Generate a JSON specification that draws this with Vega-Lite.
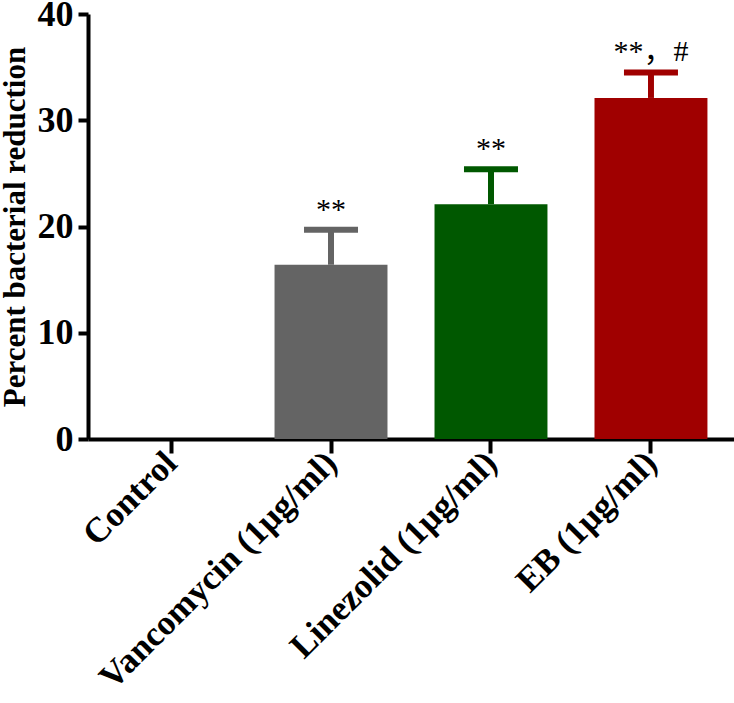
{
  "$schema": "https://vega.github.io/schema/vega-lite/v6.json",
  "width": 646,
  "height": 425,
  "autosize": {"type": "none"},
  "padding": {"left": 88, "top": 14, "right": 0, "bottom": 264},
  "background": "white",
  "config": {"view": {"stroke": null}},
  "data": {
    "values": [
      {"group": "Control", "value": 0, "upper": null, "label": ""},
      {"group": "Vancomycin (1μg/ml)", "value": 16.4, "upper": 19.7, "label": "**"},
      {"group": "Linezolid (1μg/ml)", "value": 22.1, "upper": 25.4, "label": "**"},
      {"group": "EB (1μg/ml)", "value": 32.1, "upper": 34.5, "label": "**，#"}
    ]
  },
  "encoding": {
    "x": {
      "field": "group",
      "type": "nominal",
      "sort": null,
      "scale": {"paddingInner": 0.294, "paddingOuter": 0.166},
      "axis": {
        "title": null,
        "labelAngle": -45,
        "labelAlign": "right",
        "labelBaseline": "middle",
        "labelFont": "Liberation Serif",
        "labelFontWeight": "bold",
        "labelFontSize": 35,
        "labelColor": "black",
        "labelPadding": 4,
        "labelLimit": 0,
        "domainColor": "black",
        "domainWidth": 4,
        "tickColor": "black",
        "tickWidth": 4,
        "tickSize": 14,
        "grid": false
      }
    }
  },
  "layer": [
    {
      "mark": {"type": "bar"},
      "encoding": {
        "y": {
          "field": "value",
          "type": "quantitative",
          "scale": {"domain": [0, 40], "nice": false},
          "axis": {
            "title": "Percent bacterial reduction",
            "titleFont": "Liberation Serif",
            "titleFontWeight": "bold",
            "titleFontSize": 31,
            "titleColor": "black",
            "titlePadding": 6,
            "values": [0, 10, 20, 30, 40],
            "labelFont": "Liberation Serif",
            "labelFontWeight": "bold",
            "labelFontSize": 36,
            "labelColor": "black",
            "labelPadding": 5,
            "domainColor": "black",
            "domainWidth": 4,
            "tickColor": "black",
            "tickWidth": 4,
            "tickSize": 10,
            "grid": false
          }
        },
        "color": {
          "field": "group",
          "type": "nominal",
          "scale": {
            "domain": ["Control", "Vancomycin (1μg/ml)", "Linezolid (1μg/ml)", "EB (1μg/ml)"],
            "range": ["#ffffff", "#646464", "#005800", "#a00000"]
          },
          "legend": null
        }
      }
    },
    {
      "transform": [{"filter": "datum.upper != null"}],
      "mark": {"type": "rule", "strokeWidth": 6, "opacity": 1},
      "encoding": {
        "y": {"field": "value", "type": "quantitative"},
        "y2": {"field": "upper"},
        "color": {"field": "group", "type": "nominal", "legend": null}
      }
    },
    {
      "transform": [{"filter": "datum.upper != null"}],
      "mark": {"type": "tick", "size": 54, "thickness": 6, "opacity": 1},
      "encoding": {
        "y": {"field": "upper", "type": "quantitative"},
        "color": {"field": "group", "type": "nominal", "legend": null}
      }
    },
    {
      "transform": [{"filter": "datum.upper != null"}],
      "mark": {
        "type": "text",
        "font": "Liberation Serif, Noto Sans CJK SC",
        "fontSize": 30,
        "color": "black",
        "baseline": "alphabetic",
        "align": "center",
        "dy": -11
      },
      "encoding": {
        "y": {"field": "upper", "type": "quantitative"},
        "text": {"field": "label"}
      }
    }
  ]
}
